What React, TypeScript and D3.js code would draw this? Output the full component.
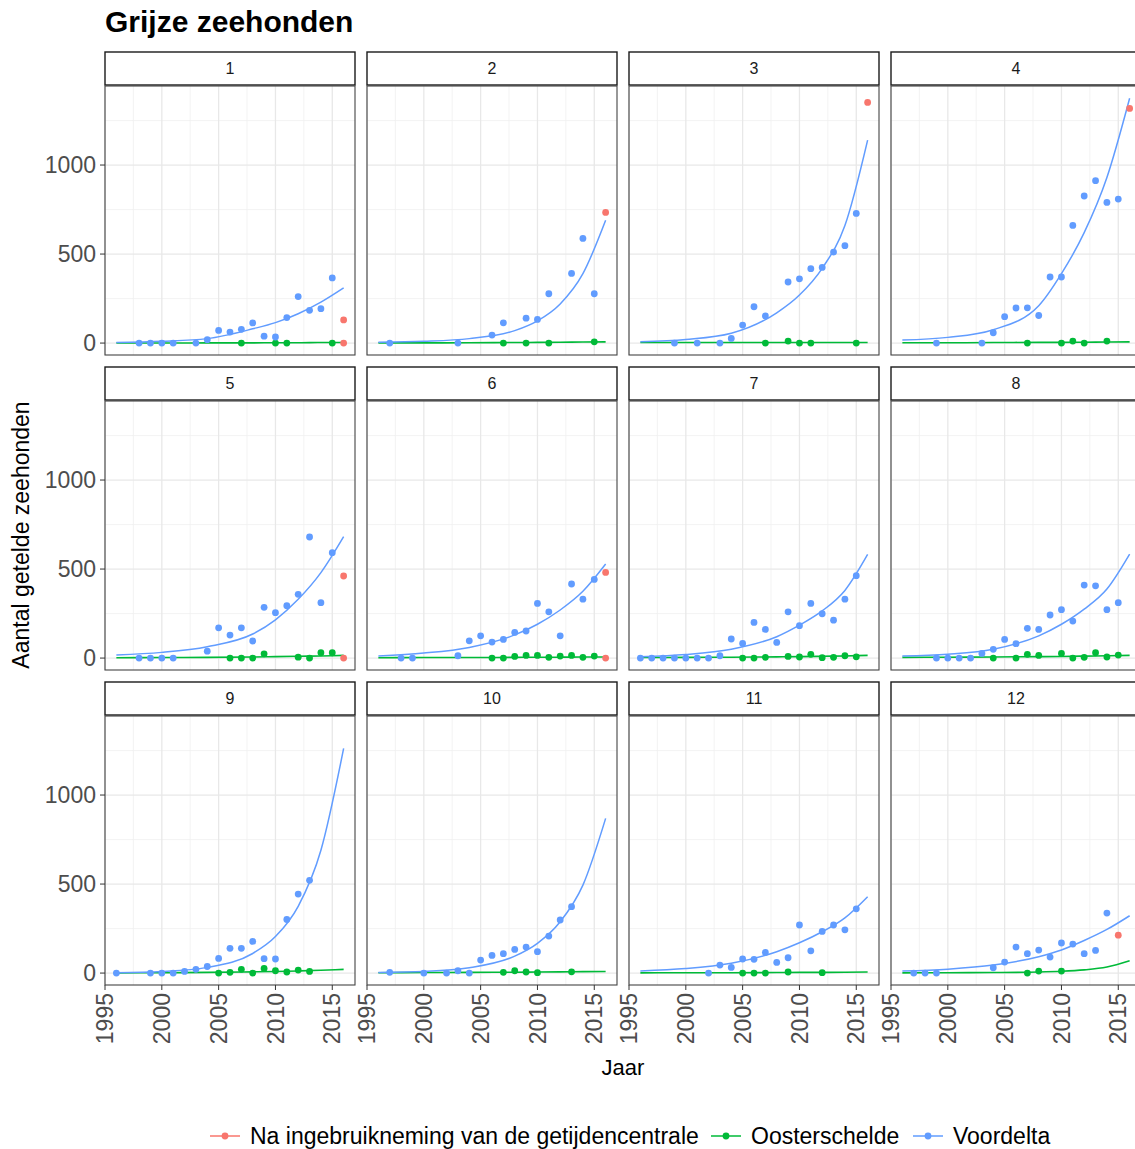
import React from 'react';
import * as d3 from 'd3';

// facet labels
const panels = ['1', '2', '3', '4', '5', '6', '7', '8', '9', '10', '11', '12'];
const xTicks = [1995, 2000, 2005, 2010, 2015];
const xMinor = [1997.5, 2002.5, 2007.5, 2012.5];
const yTicks = [0, 500, 1000];
const yMinor = [250, 750, 1250];
const legendLabels = ['Na ingebruikneming van de getijdencentrale', 'Oosterschelde', 'Voordelta'];
const colors = ['#F8766D', '#00BA38', '#619CFF'];

// counted seals per panel, [year, count]
const voordeltaPts: [number, number][][] = [
  [[1998, 0], [1999, 0], [2000, 0], [2001, 0], [2003, 0], [2004, 19], [2005, 71], [2006, 62], [2007, 77], [2008, 113], [2009, 39], [2010, 34], [2011, 143], [2012, 261], [2013, 184], [2014, 193], [2015, 366]],
  [[1997, 0], [2003, 0], [2006, 45], [2007, 114], [2009, 140], [2010, 133], [2011, 277], [2013, 391], [2014, 588], [2015, 277]],
  [[1999, 0], [2001, 0], [2003, 0], [2004, 26], [2005, 101], [2006, 204], [2007, 152], [2009, 343], [2010, 361], [2011, 418], [2012, 425], [2013, 511], [2014, 547], [2015, 728]],
  [[1999, 0], [2003, 0], [2004, 58], [2005, 148], [2006, 197], [2007, 198], [2008, 155], [2009, 371], [2010, 371], [2011, 661], [2012, 826], [2013, 912], [2014, 790], [2015, 809]],
  [[1998, 0], [1999, 0], [2000, 0], [2001, 0], [2004, 39], [2005, 170], [2006, 129], [2007, 170], [2008, 96], [2009, 285], [2010, 255], [2011, 294], [2012, 358], [2013, 680], [2014, 311], [2015, 592]],
  [[1998, 0], [1999, 0], [2003, 13], [2004, 97], [2005, 125], [2006, 90], [2007, 105], [2008, 144], [2009, 152], [2010, 307], [2011, 260], [2012, 125], [2013, 416], [2014, 331], [2015, 442]],
  [[1996, 0], [1997, 0], [1998, 0], [1999, 0], [2000, 0], [2001, 0], [2002, 0], [2003, 13], [2004, 107], [2005, 82], [2006, 200], [2007, 161], [2008, 88], [2009, 260], [2010, 182], [2011, 307], [2012, 249], [2013, 213], [2014, 331], [2015, 463]],
  [[1999, 0], [2000, 0], [2001, 0], [2002, 0], [2003, 26], [2004, 49], [2005, 105], [2006, 81], [2007, 167], [2008, 161], [2009, 242], [2010, 272], [2011, 208], [2012, 410], [2013, 406], [2014, 272], [2015, 311]],
  [[1996, 0], [1999, 0], [2000, 0], [2001, 0], [2002, 9], [2003, 21], [2004, 37], [2005, 82], [2006, 139], [2007, 139], [2008, 178], [2009, 81], [2010, 79], [2011, 301], [2012, 444], [2013, 521]],
  [[1997, 4], [2000, 0], [2002, 0], [2003, 13], [2004, 0], [2005, 73], [2006, 99], [2007, 109], [2008, 133], [2009, 146], [2010, 120], [2011, 208], [2012, 298], [2013, 373]],
  [[2002, 0], [2003, 45], [2004, 32], [2005, 79], [2006, 77], [2007, 116], [2008, 60], [2009, 86], [2010, 270], [2011, 125], [2012, 234], [2013, 270], [2014, 243], [2015, 361]],
  [[1997, 0], [1998, 0], [1999, 0], [2004, 30], [2005, 62], [2006, 146], [2007, 109], [2008, 129], [2009, 90], [2010, 169], [2011, 163], [2012, 109], [2013, 127], [2014, 337]],
];

const oosterscheldePts: [number, number][][] = [
  [[2007, 0], [2010, 0], [2011, 0], [2015, 0]],
  [[2007, 0], [2009, 0], [2011, 0], [2015, 7]],
  [[2007, 0], [2009, 11], [2010, 0], [2011, 0], [2015, 0]],
  [[2007, 0], [2010, 0], [2011, 11], [2012, 0], [2014, 11]],
  [[2006, 0], [2007, 0], [2008, 0], [2009, 24], [2012, 5], [2013, 0], [2014, 30], [2015, 30]],
  [[2006, 0], [2007, 0], [2008, 9], [2009, 15], [2010, 15], [2011, 4], [2012, 11], [2013, 15], [2014, 4], [2015, 11]],
  [[2005, 0], [2006, 0], [2007, 4], [2009, 9], [2010, 6], [2011, 21], [2012, 2], [2013, 4], [2014, 13], [2015, 7]],
  [[2004, 0], [2006, 0], [2007, 21], [2008, 15], [2010, 26], [2011, 0], [2012, 4], [2013, 30], [2014, 6], [2015, 17]],
  [[2005, 0], [2006, 4], [2007, 21], [2008, 0], [2009, 26], [2010, 13], [2011, 6], [2012, 17], [2013, 9]],
  [[2007, 4], [2008, 13], [2009, 6], [2010, 2], [2013, 7]],
  [[2005, 0], [2006, 0], [2007, 0], [2009, 6], [2012, 2]],
  [[2007, 0], [2008, 11], [2010, 11]],
];

const centralePts: [number, number][][] = [
  [[2016, 130], [2016, 0]],
  [[2016, 734]],
  [[2016, 1352]],
  [[2016, 1318]],
  [[2016, 461], [2016, 0]],
  [[2016, 481], [2016, 0]],
  [], [], [], [], [],
  [[2015, 213]],
];

// fitted trend lines, read at these years
const fitYears = [1996, 2000, 2004, 2008, 2010, 2012, 2014, 2016];
const voordeltaFit = [
  [3, 10, 25, 80, 115, 165, 230, 310],
  [5, 10, 25, 70, 125, 220, 390, 690],
  [7, 20, 55, 170, 270, 420, 660, 1140],
  [17, 32, 75, 210, 390, 620, 930, 1375],
  [17, 32, 64, 135, 215, 330, 480, 682],
  [11, 28, 60, 130, 190, 270, 375, 528],
  [7, 20, 50, 120, 185, 265, 380, 582],
  [11, 22, 50, 125, 190, 275, 388, 584],
  [2, 9, 32, 110, 205, 375, 690, 1262],
  [3, 9, 30, 95, 167, 288, 494, 869],
  [12, 25, 55, 120, 170, 232, 310, 429],
  [11, 22, 45, 92, 130, 183, 245, 322],
];
const oosterscheldeFit = [
  [0, 0, 1, 1, 2, 2, 3, 3],
  [1, 1, 2, 3, 4, 5, 6, 7],
  [3, 3, 3, 3, 3, 3, 3, 3],
  [2, 2, 3, 4, 4, 5, 6, 7],
  [2, 3, 4, 6, 8, 10, 12, 15],
  [2, 3, 3, 4, 5, 5, 6, 6],
  [3, 4, 5, 7, 8, 10, 12, 15],
  [4, 5, 6, 8, 9, 11, 13, 15],
  [1, 2, 4, 7, 9, 12, 16, 21],
  [2, 3, 4, 5, 6, 7, 8, 9],
  [1, 2, 2, 3, 4, 4, 5, 6],
  [1, 2, 3, 6, 10, 18, 34, 69],
];

const font = 'Liberation Sans, Arial, Helvetica, sans-serif';
const W = 1135, H = 1149;
const left = 105, panelW = 250, colStep = 262;
const panelTop = 86, panelH = 269, rowStep = 315, stripH = 33;

function Panel({ i }: { i: number }) {
  const col = i % 4, row = Math.floor(i / 4);
  const x0 = left + col * colStep;
  const y0 = panelTop + row * rowStep;
  const x = d3.scaleLinear().domain([1995, 2017]).range([x0, x0 + panelW]);
  const y = d3.scaleLinear().domain([-67, 1444]).range([y0 + panelH, y0]);
  const line = d3.line<number>()
    .x((_, k) => x(fitYears[k]))
    .y(d => y(d))
    .curve(d3.curveMonotoneX);
  const dots = (pts: [number, number][], c: string, key: string) =>
    pts.map((p, k) => <circle key={key + k} cx={x(p[0])} cy={y(p[1])} r={3.4} fill={c} />);

  return (
    <g>
      <rect x={x0} y={y0 - stripH - 1} width={panelW} height={stripH} fill="#fff" stroke="#1a1a1a" strokeWidth={1.4} />
      <text x={x0 + panelW / 2} y={y0 - stripH / 2 - 1} dy="0.35em" textAnchor="middle" fontSize={16} fill="#1a1a1a" fontFamily={font}>{panels[i]}</text>
      <rect x={x0} y={y0} width={panelW} height={panelH} fill="#fff" />
      {yMinor.map(v => <line key={'ym' + v} x1={x0} x2={x0 + panelW} y1={y(v)} y2={y(v)} stroke="#F0F0F0" strokeWidth={0.8} />)}
      {xMinor.map(v => <line key={'xm' + v} x1={x(v)} x2={x(v)} y1={y0} y2={y0 + panelH} stroke="#F0F0F0" strokeWidth={0.8} />)}
      {yTicks.map(v => <line key={'yg' + v} x1={x0} x2={x0 + panelW} y1={y(v)} y2={y(v)} stroke="#E8E8E8" strokeWidth={1.3} />)}
      {xTicks.map(v => <line key={'xg' + v} x1={x(v)} x2={x(v)} y1={y0} y2={y0 + panelH} stroke="#E8E8E8" strokeWidth={1.3} />)}
      <path d={line(oosterscheldeFit[i]) || ''} fill="none" stroke={colors[1]} strokeWidth={1.6} />
      <path d={line(voordeltaFit[i]) || ''} fill="none" stroke={colors[2]} strokeWidth={1.5} />
      {dots(oosterscheldePts[i], colors[1], 'g')}
      {dots(voordeltaPts[i], colors[2], 'b')}
      {dots(centralePts[i], colors[0], 'r')}
      <rect x={x0} y={y0} width={panelW} height={panelH} fill="none" stroke="#444" strokeWidth={1.1} />
      {col === 0 && yTicks.map(v => (
        <g key={'yt' + v}>
          <line x1={x0 - 5} x2={x0} y1={y(v)} y2={y(v)} stroke="#333" strokeWidth={1} />
          <text x={x0 - 9} y={y(v)} dy="0.35em" textAnchor="end" fontSize={23} fill="#4D4D4D" fontFamily={font}>{v}</text>
        </g>
      ))}
      {row === 2 && xTicks.map(v => (
        <g key={'xt' + v}>
          <line x1={x(v)} x2={x(v)} y1={y0 + panelH} y2={y0 + panelH + 5} stroke="#333" strokeWidth={1} />
          <text transform={`translate(${x(v)},${y0 + panelH + 8}) rotate(-90)`} dy="0.35em" textAnchor="end" fontSize={23} fill="#4D4D4D" fontFamily={font}>{v}</text>
        </g>
      ))}
    </g>
  );
}

export default function App() {
  const legendX = [210, 711, 913];
  const ly = 1136;
  return (
    <svg width={W} height={H} style={{ position: 'absolute', left: 0, top: 0, background: '#fff' }}>
      <rect width={W} height={H} fill="#fff" />
      <text x={105} y={32} fontSize={30} fontWeight="bold" fill="#000" fontFamily={font}>Grijze zeehonden</text>
      {panels.map((_, i) => <Panel key={i} i={i} />)}
      <text transform="translate(29,535) rotate(-90)" textAnchor="middle" fontSize={23} fill="#000" fontFamily={font}>Aantal getelde zeehonden</text>
      <text x={623} y={1075} textAnchor="middle" fontSize={22} fill="#000" fontFamily={font}>Jaar</text>
      {legendLabels.map((lab, k) => (
        <g key={lab}>
          <line x1={legendX[k]} x2={legendX[k] + 30} y1={ly} y2={ly} stroke={colors[k]} strokeWidth={1.5} />
          <circle cx={legendX[k] + 15} cy={ly} r={3.4} fill={colors[k]} />
          <text x={legendX[k] + 40} y={ly} dy="0.35em" fontSize={23} fill="#000" fontFamily={font}>{lab}</text>
        </g>
      ))}
    </svg>
  );
}
